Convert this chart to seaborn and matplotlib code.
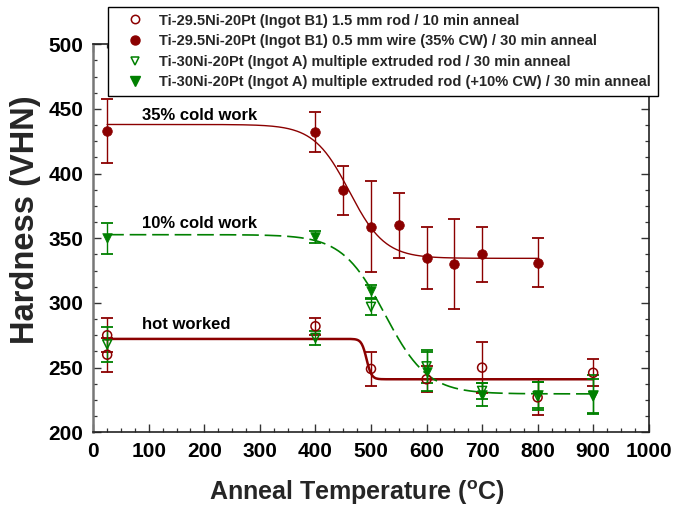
import numpy as np
import pandas as pd
import matplotlib
matplotlib.use("Agg")
import matplotlib.pyplot as plt
from matplotlib.lines import Line2D
from matplotlib.ticker import MultipleLocator
import seaborn as sns

# ---- measured hardness data -------------------------------------------------
# Ti-29.5Ni-20Pt (Ingot B1) 1.5 mm rod / 10 min anneal
rod_b1_temp = [25, 25, 400, 500, 600, 700, 800, 900]
rod_b1_hv = [275, 260, 282, 249, 241, 250, 227, 246]
rod_b1_err = [13, 13, 6.5, 13, 10, 19.5, 14, 10.5]

# Ti-29.5Ni-20Pt (Ingot B1) 0.5 mm wire (35% CW) / 30 min anneal
wire_b1_temp = [25, 400, 450, 500, 550, 600, 650, 700, 800]
wire_b1_hv = [433, 432, 387, 359, 360, 334.5, 330, 337.5, 331]
wire_b1_err = [25, 15.5, 19, 35, 25, 24, 35, 21, 19]

# Ti-30Ni-20Pt (Ingot A) multiple extruded rod / 30 min anneal
rod_a_temp = [25, 400, 500, 600, 700, 800, 900]
rod_a_hv = [268, 273, 297, 251, 232, 228, 228]
rod_a_err = [13.5, 5.5, 6, 13, 6, 11, 13]

# Ti-30Ni-20Pt (Ingot A) multiple extruded rod (+10% CW) / 30 min anneal
cw_a_temp = [25, 400, 500, 600, 700, 800, 900]
cw_a_hv = [350, 351, 309, 247, 229, 229, 229]
cw_a_err = [12, 5, 5, 15, 9, 10, 15]

series_labels = [
    "Ti-29.5Ni-20Pt (Ingot B1) 1.5 mm rod / 10 min anneal",
    "Ti-29.5Ni-20Pt (Ingot B1) 0.5 mm wire (35% CW) / 30 min anneal",
    "Ti-30Ni-20Pt (Ingot A) multiple extruded rod / 30 min anneal",
    "Ti-30Ni-20Pt (Ingot A) multiple extruded rod (+10% CW) / 30 min anneal",
]

# Boltzmann sigmoid fits: (upper plateau, lower plateau, midpoint, width, T start, T end)
fit_cw35 = (438.0, 334.5, 461.0, 32.0, 25, 800)
fit_cw10 = (352.8, 229.7, 525.0, 38.5, 25, 900)
fit_hot = (272.2, 241.0, 492.0, 4.5, 25, 900)

curve_notes = ["35% cold work", "10% cold work", "hot worked"]
note_y = [445.3, 361.6, 283.5]

RED = "#8b0000"
GREEN = "#008000"


def boltzmann(params, n=400):
    a1, a2, x0, dx, t0, t1 = params
    t = np.linspace(t0, t1, n)
    return t, a2 + (a1 - a2) / (1.0 + np.exp((t - x0) / dx))


sns.set_theme(style="ticks")
plt.rcParams["font.family"] = ["Liberation Sans", "DejaVu Sans"]
plt.rcParams["font.weight"] = "bold"
plt.rcParams["mathtext.fontset"] = "custom"
plt.rcParams["mathtext.rm"] = "Liberation Sans:bold"
plt.rcParams["mathtext.it"] = "Liberation Sans:bold"
plt.rcParams["mathtext.bf"] = "Liberation Sans:bold"

fig = plt.figure(figsize=(6.73, 5.15), dpi=100)
ax = fig.add_axes([0.1386, 0.1606, 0.8253, 0.7534])

# ---- fitted curves ----------------------------------------------------------
t, y = boltzmann(fit_cw35)
sns.lineplot(x=t, y=y, ax=ax, color=RED, linewidth=1.0, zorder=2)
t, y = boltzmann(fit_hot)
sns.lineplot(x=t, y=y, ax=ax, color=RED, linewidth=1.8, zorder=2)
t, y = boltzmann(fit_cw10)
sns.lineplot(x=t, y=y, ax=ax, color=GREEN, linewidth=1.2, zorder=2,
             dashes=False).lines[-1].set_dashes((10, 3.5))

# ---- error bars --------------------------------------------------------------
for tt, hv, err, col in [
    (rod_b1_temp, rod_b1_hv, rod_b1_err, RED),
    (wire_b1_temp, wire_b1_hv, wire_b1_err, RED),
    (rod_a_temp, rod_a_hv, rod_a_err, GREEN),
    (cw_a_temp, cw_a_hv, cw_a_err, GREEN),
]:
    ax.errorbar(tt, hv, yerr=err, fmt="none", ecolor=col, elinewidth=1.0,
                capsize=4.2, capthick=1.3, zorder=3)

# ---- markers -----------------------------------------------------------------
df_rod_b1 = pd.DataFrame({"T": rod_b1_temp, "HV": rod_b1_hv})
df_wire_b1 = pd.DataFrame({"T": wire_b1_temp, "HV": wire_b1_hv})
df_rod_a = pd.DataFrame({"T": rod_a_temp, "HV": rod_a_hv})
df_cw_a = pd.DataFrame({"T": cw_a_temp, "HV": cw_a_hv})

sns.scatterplot(data=df_rod_b1, x="T", y="HV", ax=ax, marker="o", s=42,
                facecolor="none", edgecolor=RED, linewidth=1.1, zorder=4)
sns.scatterplot(data=df_wire_b1, x="T", y="HV", ax=ax, marker="o", s=48,
                color=RED, edgecolor=RED, linewidth=0.5, zorder=4)
sns.scatterplot(data=df_rod_a, x="T", y="HV", ax=ax, marker="v", s=42,
                facecolor="none", edgecolor=GREEN, linewidth=1.1, zorder=4)
sns.scatterplot(data=df_cw_a, x="T", y="HV", ax=ax, marker="v", s=48,
                color=GREEN, edgecolor=GREEN, linewidth=0.5, zorder=4)

# ---- curve annotations -------------------------------------------------------
for txt, yy in zip(curve_notes, note_y):
    ax.text(88, yy, txt, fontsize=12, fontweight="bold", ha="left",
            va="center", color="black")

# ---- axes --------------------------------------------------------------------
ax.set_xlim(0, 1000)
ax.set_ylim(200, 500)
ax.xaxis.set_major_locator(MultipleLocator(100))
ax.xaxis.set_minor_locator(MultipleLocator(25))
ax.yaxis.set_major_locator(MultipleLocator(50))
ax.yaxis.set_minor_locator(MultipleLocator(12.5))
ax.tick_params(which="both", direction="in", top=True, right=True,
               colors="#333333", labelcolor="black")
ax.tick_params(which="major", length=5.5, width=1.0, labelsize=15, pad=7)
ax.tick_params(which="minor", length=3, width=0.9)
for lab in ax.get_xticklabels() + ax.get_yticklabels():
    lab.set_fontweight("bold")
for side in ["top", "right", "bottom"]:
    ax.spines[side].set_color("#222222")
    ax.spines[side].set_linewidth(1.2)
ax.spines["left"].set_color("#777777")
ax.spines["left"].set_linewidth(1.8)

ax.set_xlabel(r"Anneal Temperature ($\mathrm{^{o}}$C)", fontsize=18,
              fontweight="bold")
ax.xaxis.set_label_coords(0.475, -0.118)
ax.set_ylabel("Hardness (VHN)", fontsize=23.5, fontweight="bold")
ax.yaxis.set_label_coords(-0.094, 0.547)

# ---- legend ------------------------------------------------------------------
handles = [
    Line2D([], [], linestyle="none", marker="o", markersize=6,
           markerfacecolor="white", markeredgecolor=RED, markeredgewidth=1.1),
    Line2D([], [], linestyle="none", marker="o", markersize=6.5,
           markerfacecolor=RED, markeredgecolor=RED),
    Line2D([], [], linestyle="none", marker="v", markersize=6,
           markerfacecolor="white", markeredgecolor=GREEN, markeredgewidth=1.1),
    Line2D([], [], linestyle="none", marker="v", markersize=6.5,
           markerfacecolor=GREEN, markeredgecolor=GREEN),
]
leg = ax.legend(handles, series_labels, loc="upper left",
                bbox_to_anchor=(0.1605, 0.9865, 0.8172, 0.0),
                bbox_transform=fig.transFigure, mode="expand",
                prop={"weight": "bold", "size": 10.5}, frameon=True,
                fancybox=False, framealpha=1, edgecolor="black",
                borderpad=0.45, handlelength=2.8, handletextpad=0.25,
                labelspacing=0.45, borderaxespad=0)
leg.get_frame().set_linewidth(1.0)
leg.set_zorder(10)

fig.savefig("out.png", dpi=100)
